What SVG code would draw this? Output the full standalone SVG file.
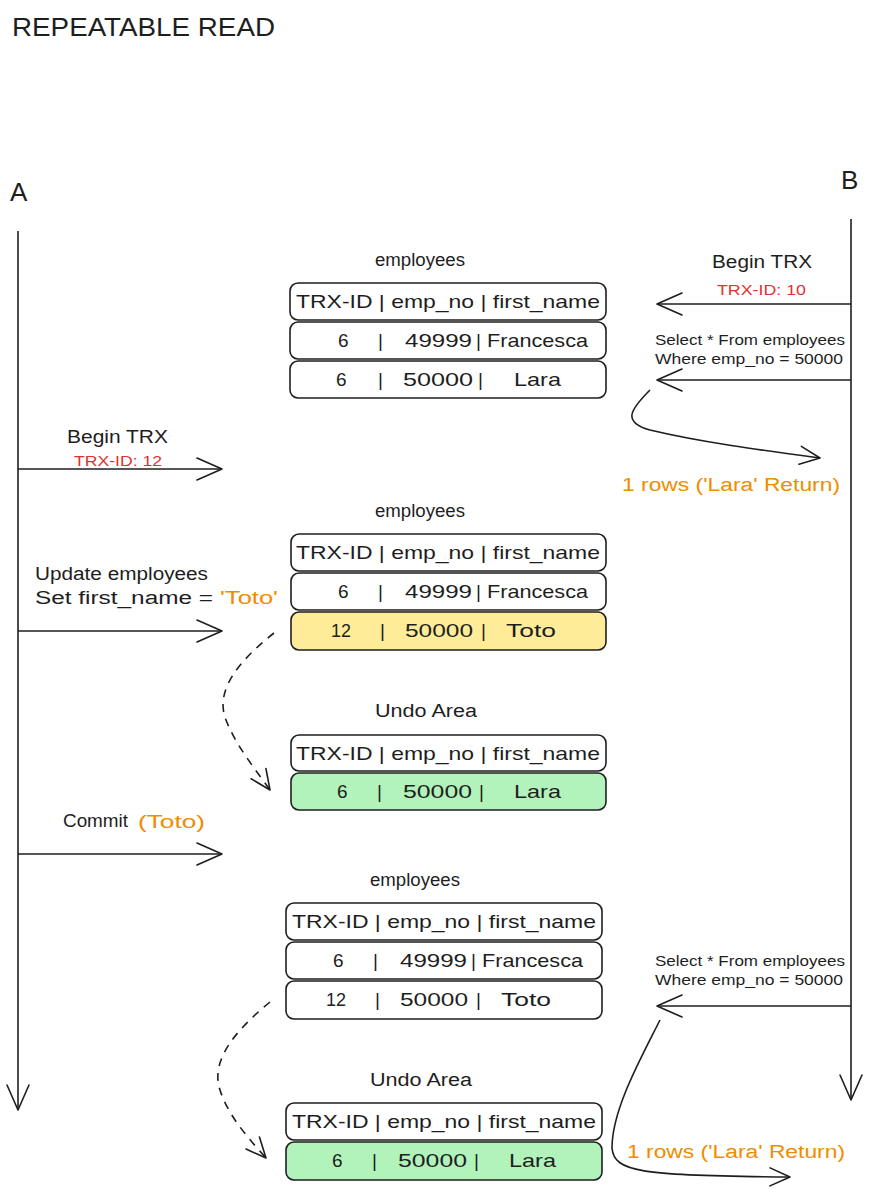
<svg xmlns="http://www.w3.org/2000/svg" width="870" height="1190" viewBox="0 0 870 1190">
<defs>
<style>
.t{font-family:"Liberation Sans",Arial,sans-serif;fill:#1e1e1e}
.cell{fill:#ffffff;stroke:#1e1e1e;stroke-width:1.6}
.yel{fill:#ffec99}
.grn{fill:#b2f2bb}
.ln{fill:none;stroke:#1e1e1e;stroke-width:1.6}
.dash{stroke-dasharray:8 7}
.red{fill:#e03131}
.org{fill:#f08c00}
.row{font-size:19px}
.lbl{font-size:18px}
.sm{font-size:15px}
</style>
<marker id="ah" markerUnits="userSpaceOnUse" markerWidth="32" markerHeight="26" refX="27" refY="13" orient="auto">
<path d="M2,2 L27,13 L2,24" fill="none" stroke="#1e1e1e" stroke-width="1.6" stroke-linecap="round" stroke-linejoin="round"/>
</marker>
<marker id="ahs" markerUnits="userSpaceOnUse" markerWidth="26" markerHeight="24" refX="22" refY="12" orient="auto">
<path d="M2,3 L22,12 L2,21" fill="none" stroke="#1e1e1e" stroke-width="1.6" stroke-linecap="round" stroke-linejoin="round"/>
</marker>
</defs>

<text class="t" x="12" y="36" font-size="26" textLength="263" lengthAdjust="spacingAndGlyphs">REPEATABLE READ</text>
<text class="t" x="10" y="201" font-size="26">A</text>
<text class="t" x="841" y="189" font-size="26">B</text>

<g id="connectors">
<line class="ln" x1="18" y1="231" x2="18" y2="1110" marker-end="url(#ah)"/>
<line class="ln" x1="851" y1="219" x2="851" y2="1100" marker-end="url(#ah)"/>
<line class="ln" x1="851" y1="304" x2="657" y2="304" marker-end="url(#ah)"/>
<line class="ln" x1="851" y1="380" x2="657" y2="380" marker-end="url(#ah)"/>
<path class="ln" d="M650,390 C630,410 622,422 650,430 C700,442 760,450 820,458" marker-end="url(#ahs)"/>
<line class="ln" x1="18" y1="469" x2="222" y2="469" marker-end="url(#ah)"/>
<line class="ln" x1="18" y1="631" x2="222" y2="631" marker-end="url(#ah)"/>
<path class="ln dash" d="M274,633 C240,660 214,690 226,720 C236,746 256,770 270,790" marker-end="url(#ahs)"/>
<line class="ln" x1="18" y1="854" x2="222" y2="854" marker-end="url(#ah)"/>
<path class="ln dash" d="M270,1002 C236,1030 210,1060 220,1090 C228,1116 250,1140 266,1158" marker-end="url(#ahs)"/>
<line class="ln" x1="851" y1="1006" x2="657" y2="1006" marker-end="url(#ah)"/>
<path class="ln" d="M660,1020 C640,1060 612,1110 612,1148 C614,1172 640,1176 790,1177" marker-end="url(#ahs)"/>
</g>

<g id="label-b-begin">
<text class="t lbl" x="712" y="268" textLength="100" lengthAdjust="spacingAndGlyphs">Begin TRX</text>
<text class="t sm red" x="717" y="295" textLength="89" lengthAdjust="spacingAndGlyphs">TRX-ID: 10</text>
</g>
<g id="label-b-select1">
<text class="t sm" x="655" y="345" textLength="190" lengthAdjust="spacingAndGlyphs">Select * From employees</text>
<text class="t sm" x="655" y="364" textLength="188" lengthAdjust="spacingAndGlyphs">Where emp_no = 50000</text>
</g>
<text class="t org" x="622" y="491" font-size="18" textLength="218" lengthAdjust="spacingAndGlyphs">1 rows ('Lara' Return)</text>

<g id="label-a-begin">
<text class="t lbl" x="67" y="443" textLength="101" lengthAdjust="spacingAndGlyphs">Begin TRX</text>
<text class="t sm red" x="74" y="466" textLength="88" lengthAdjust="spacingAndGlyphs">TRX-ID: 12</text>
</g>
<g id="label-a-update">
<text class="t lbl" x="35" y="580" textLength="173" lengthAdjust="spacingAndGlyphs">Update employees</text>
<text class="t lbl" x="35" y="604" textLength="178" lengthAdjust="spacingAndGlyphs">Set first_name =</text>
<text class="t lbl org" x="220" y="604" textLength="58" lengthAdjust="spacingAndGlyphs">'Toto'</text>
</g>
<g id="label-a-commit">
<text class="t lbl" x="63" y="827" textLength="65" lengthAdjust="spacingAndGlyphs">Commit</text>
<text class="t lbl org" x="138" y="828" textLength="67" lengthAdjust="spacingAndGlyphs">(Toto)</text>
</g>

<g id="table-employees-1">
<text class="t lbl" x="375" y="266" textLength="90" lengthAdjust="spacingAndGlyphs">employees</text>
<rect class="cell" x="290" y="283" width="316" height="37" rx="8"/>
<rect class="cell" x="290" y="322" width="316" height="37" rx="8"/>
<rect class="cell" x="290" y="361" width="316" height="37" rx="8"/>
<text class="t row" x="448" y="308" text-anchor="middle" textLength="304" lengthAdjust="spacingAndGlyphs">TRX-ID | emp_no | first_name</text>
<text class="t row" x="338" y="347">6</text><text class="t row" x="378" y="347">|</text>
<text class="t row" x="405" y="347" textLength="67" lengthAdjust="spacingAndGlyphs">49999</text><text class="t row" x="476" y="347">|</text>
<text class="t row" x="487" y="347" textLength="101" lengthAdjust="spacingAndGlyphs">Francesca</text>
<text class="t row" x="336" y="386">6</text><text class="t row" x="378" y="386">|</text>
<text class="t row" x="403" y="386" textLength="70" lengthAdjust="spacingAndGlyphs">50000</text><text class="t row" x="478" y="386">|</text>
<text class="t row" x="514" y="386" textLength="47" lengthAdjust="spacingAndGlyphs">Lara</text>
</g>

<g id="table-employees-2">
<text class="t lbl" x="375" y="517" textLength="90" lengthAdjust="spacingAndGlyphs">employees</text>
<rect class="cell" x="291" y="534" width="315" height="37" rx="8"/>
<rect class="cell" x="291" y="573" width="315" height="37" rx="8"/>
<rect class="cell yel" x="291" y="612" width="315" height="38" rx="8"/>
<text class="t row" x="448" y="559" text-anchor="middle" textLength="304" lengthAdjust="spacingAndGlyphs">TRX-ID | emp_no | first_name</text>
<text class="t row" x="338" y="598">6</text><text class="t row" x="378" y="598">|</text>
<text class="t row" x="405" y="598" textLength="67" lengthAdjust="spacingAndGlyphs">49999</text><text class="t row" x="476" y="598">|</text>
<text class="t row" x="487" y="598" textLength="101" lengthAdjust="spacingAndGlyphs">Francesca</text>
<text class="t row" x="331" y="637" textLength="20" lengthAdjust="spacingAndGlyphs">12</text><text class="t row" x="380" y="637">|</text>
<text class="t row" x="405" y="637" textLength="68" lengthAdjust="spacingAndGlyphs">50000</text><text class="t row" x="481" y="637">|</text>
<text class="t row" x="506" y="637" textLength="50" lengthAdjust="spacingAndGlyphs">Toto</text>
</g>

<g id="undo-area-1">
<text class="t lbl" x="375" y="717" textLength="102" lengthAdjust="spacingAndGlyphs">Undo Area</text>
<rect class="cell" x="291" y="735" width="315" height="36" rx="8"/>
<rect class="cell grn" x="291" y="773" width="315" height="37" rx="8"/>
<text class="t row" x="448" y="760" text-anchor="middle" textLength="304" lengthAdjust="spacingAndGlyphs">TRX-ID | emp_no | first_name</text>
<text class="t row" x="337" y="798">6</text><text class="t row" x="377" y="798">|</text>
<text class="t row" x="403" y="798" textLength="69" lengthAdjust="spacingAndGlyphs">50000</text><text class="t row" x="479" y="798">|</text>
<text class="t row" x="514" y="798" textLength="47" lengthAdjust="spacingAndGlyphs">Lara</text>
</g>

<g id="table-employees-3">
<text class="t lbl" x="370" y="886" textLength="90" lengthAdjust="spacingAndGlyphs">employees</text>
<rect class="cell" x="286" y="903" width="316" height="37" rx="8"/>
<rect class="cell" x="286" y="942" width="316" height="37" rx="8"/>
<rect class="cell" x="286" y="981" width="316" height="38" rx="8"/>
<text class="t row" x="444" y="928" text-anchor="middle" textLength="304" lengthAdjust="spacingAndGlyphs">TRX-ID | emp_no | first_name</text>
<text class="t row" x="333" y="967">6</text><text class="t row" x="373" y="967">|</text>
<text class="t row" x="400" y="967" textLength="67" lengthAdjust="spacingAndGlyphs">49999</text><text class="t row" x="471" y="967">|</text>
<text class="t row" x="482" y="967" textLength="101" lengthAdjust="spacingAndGlyphs">Francesca</text>
<text class="t row" x="326" y="1006" textLength="20" lengthAdjust="spacingAndGlyphs">12</text><text class="t row" x="375" y="1006">|</text>
<text class="t row" x="400" y="1006" textLength="68" lengthAdjust="spacingAndGlyphs">50000</text><text class="t row" x="476" y="1006">|</text>
<text class="t row" x="501" y="1006" textLength="50" lengthAdjust="spacingAndGlyphs">Toto</text>
</g>

<g id="undo-area-2">
<text class="t lbl" x="370" y="1086" textLength="102" lengthAdjust="spacingAndGlyphs">Undo Area</text>
<rect class="cell" x="286" y="1103" width="316" height="37" rx="8"/>
<rect class="cell grn" x="286" y="1142" width="316" height="38" rx="8"/>
<text class="t row" x="444" y="1128" text-anchor="middle" textLength="304" lengthAdjust="spacingAndGlyphs">TRX-ID | emp_no | first_name</text>
<text class="t row" x="332" y="1167">6</text><text class="t row" x="372" y="1167">|</text>
<text class="t row" x="398" y="1167" textLength="69" lengthAdjust="spacingAndGlyphs">50000</text><text class="t row" x="474" y="1167">|</text>
<text class="t row" x="509" y="1167" textLength="47" lengthAdjust="spacingAndGlyphs">Lara</text>
</g>

<g id="label-b-select2">
<text class="t sm" x="655" y="966" textLength="190" lengthAdjust="spacingAndGlyphs">Select * From employees</text>
<text class="t sm" x="655" y="985" textLength="188" lengthAdjust="spacingAndGlyphs">Where emp_no = 50000</text>
</g>
<text class="t org" x="627" y="1158" font-size="18" textLength="218" lengthAdjust="spacingAndGlyphs">1 rows ('Lara' Return)</text>
</svg>
